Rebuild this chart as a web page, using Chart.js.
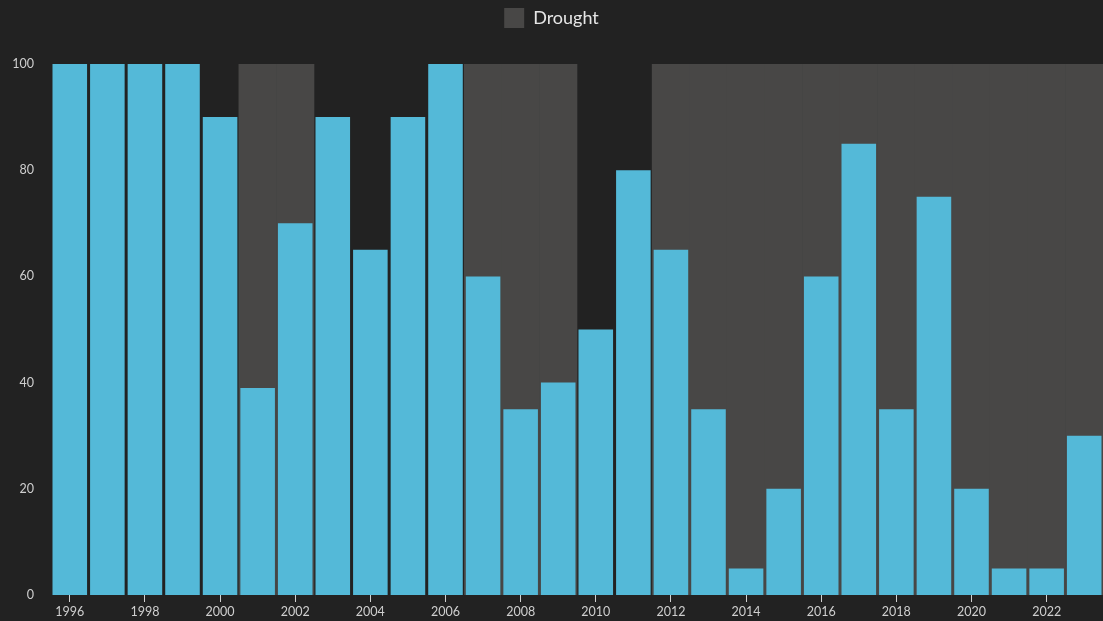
<!DOCTYPE html>
<html>
<head>
<meta charset="utf-8">
<script src="https://cdn.jsdelivr.net/npm/chart.js@4/dist/chart.umd.min.js"></script>
<style>
  body { margin: 0; background: #222222; }
  #wrap { width: 1103px; height: 621px; position: relative; }
</style>
</head>
<body>
<div id="wrap"><canvas id="chart"></canvas></div>
<script>
const years = ["1996","1997","1998","1999","2000","2001","2002","2003","2004","2005","2006","2007","2008","2009",
               "2010","2011","2012","2013","2014","2015","2016","2017","2018","2019","2020","2021","2022","2023"];
const levels = [100,100,100,100,90,39,70,90,65,90,100,60,35,40,50,80,65,35,5,20,60,85,35,75,20,5,5,30];
const droughtYears = ["2001","2002","2007","2008","2009","2012","2013","2014","2015","2016","2017","2018","2019",
                      "2020","2021","2022","2023"];
const yTicks = [0, 20, 40, 60, 80, 100];

const drought = years.map(y => droughtYears.includes(y) ? 100 : null);

// extra room under the legend
const legendGap = {
    id: "legendGap",
    beforeInit(chart) {
        const fit = chart.legend.fit;
        chart.legend.fit = function () {
            fit.bind(chart.legend)();
            this.height += 26;
        };
    }
};

new Chart(document.getElementById("chart"), {
    type: "bar",
    data: {
        labels: years,
        datasets: [
            {
                label: "Level",
                data: levels,
                backgroundColor: "#54b9d8",
                barPercentage: 0.92,
                categoryPercentage: 1,
                order: 0
            },
            {
                label: "Drought",
                data: drought,
                backgroundColor: "#484746",
                borderWidth: 0,
                barPercentage: 1,
                categoryPercentage: 1,
                order: 1
            }
        ]
    },
    plugins: [legendGap],
    options: {
        responsive: true,
        maintainAspectRatio: false,
        animation: false,
        layout: { padding: 0 },
        plugins: {
            legend: {
                labels: {
                    filter: item => item.text === "Drought",
                    color: "#e6e6e6",
                    font: { family: "Lato", size: 18 },
                    boxWidth: 20,
                    boxHeight: 20,
                    padding: 8
                }
            },
            tooltip: { enabled: false }
        },
        scales: {
            x: {
                stacked: true,
                offset: true,
                border: { display: false },
                grid: {
                    display: true,
                    offset: false,
                    drawOnChartArea: false,
                    color: ctx => ctx.index % 2 === 0 ? "#d0d0d0" : "rgba(0,0,0,0)",
                    tickLength: 7
                },
                ticks: {
                    color: "#cfcfcf",
                    font: { family: "Lato", size: 12.5 },
                    maxRotation: 0,
                    autoSkip: false,
                    padding: 2,
                    callback: function (value, index) {
                        return index % 2 === 0 ? years[index] : "";
                    }
                }
            },
            y: {
                stacked: false,
                min: 0,
                max: 100,
                border: { display: false },
                grid: { display: false },
                afterBuildTicks: axis => { axis.ticks = yTicks.map(v => ({ value: v })); },
                afterFit: axis => { axis.width = 51; },
                ticks: {
                    color: "#cfcfcf",
                    font: { family: "Lato", size: 12.5 },
                    padding: 9
                }
            }
        }
    }
});
</script>
</body>
</html>
